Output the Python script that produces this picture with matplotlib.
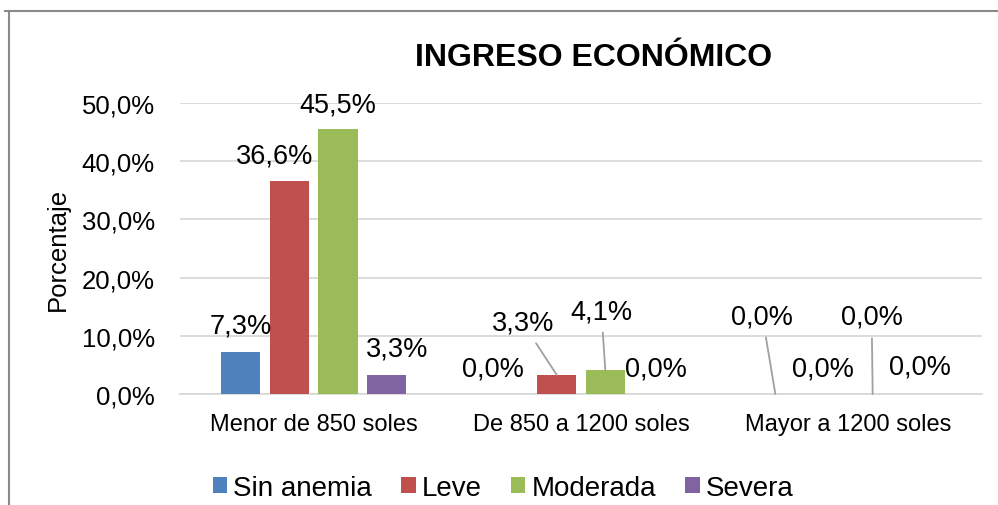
import matplotlib
matplotlib.use("Agg")
import matplotlib.pyplot as plt
from matplotlib.lines import Line2D
import numpy as np

plt.rcParams['font.family'] = ['Liberation Sans', 'DejaVu Sans']

title = "INGRESO ECONÓMICO"
categories = ["Menor de 850 soles", "De 850 a 1200 soles", "Mayor a 1200 soles"]
series_names = ["Sin anemia", "Leve", "Moderada", "Severa"]
sin_anemia = [7.3, 0.0, 0.0]
leve = [36.6, 3.3, 0.0]
moderada = [45.5, 4.1, 0.0]
severa = [3.3, 0.0, 0.0]
series_values = [sin_anemia, leve, moderada, severa]
colors = ["#4F81BD", "#C0504D", "#9BBB59", "#8064A2"]
y_ticks = [0, 10, 20, 30, 40, 50]
y_label = "Porcentaje"

# label offsets (pixels) per series, per category: (dx, dy, leader)
label_offsets = [
    [(0, 26, False), (-15, 25, False), (-13, 78, True)],
    [(-15, 25, False), (-34, 52, True), (-1, 25, False)],
    [(0, 25, False), (-4, 59, True), (-1, 77, True)],
    [(10, 26, False), (2, 26, False), (-1, 27, False)],
]

fig = plt.figure(figsize=(9.98, 5.06), dpi=100)
ax = fig.add_axes([180/998, 1-395/506, 802/998, 291/506])

x = np.arange(len(categories))
step = 0.182
width = 0.146
for i, (vals, col) in enumerate(zip(series_values, colors)):
    xs = x + (i - 1.5) * step
    ax.bar(xs, vals, width=width, color=col, label=series_names[i], zorder=3)
    for j, v in enumerate(vals):
        dx, dy, leader = label_offsets[i][j]
        txt = f"{v:.1f}%".replace(".", ",")
        kw = {}
        if leader:
            kw['arrowprops'] = dict(arrowstyle='-', color='#a0a0a0', lw=1.3,
                                    shrinkA=4, shrinkB=0)
        ax.annotate(txt, xy=(xs[j], v), xytext=(dx, dy), textcoords='offset pixels',
                    ha='center', va='center', fontsize=19.5, color='black', zorder=4, **kw)

ax.set_xlim(-0.5, 2.5)
ax.set_ylim(0, 50)
ax.set_yticks(y_ticks)
ax.set_yticklabels([f"{t:.1f}%".replace(".", ",") for t in y_ticks], fontsize=18.5)
ax.set_xticks(x)
ax.set_xticklabels(categories, fontsize=17)
ax.tick_params(axis='both', length=0)
ax.tick_params(axis='y', pad=18)
ax.tick_params(axis='x', pad=14)
ax.grid(axis='y', color='#d9d9d9', lw=1.3, zorder=0)
for s in ['top', 'right', 'left']:
    ax.spines[s].set_visible(False)
ax.spines['bottom'].set_color('#d9d9d9')
ax.spines['bottom'].set_linewidth(1.3)

ax.set_ylabel(y_label, fontsize=18.5)
ax.yaxis.set_label_coords(-0.137, 0.50)

fig.text(594/998, 1-58/506, title, fontsize=23, fontweight='bold', ha='center', va='center')

leg = fig.legend(loc='center', bbox_to_anchor=(503/998, 1-489/506), ncol=4, frameon=False,
                 fontsize=20, handlelength=0.52, handleheight=0.52, handletextpad=0.22,
                 columnspacing=1.05, borderpad=0, borderaxespad=0)

# outer chart frame
fig.add_artist(Line2D([5/998, 1.0], [1-12/506, 1-12/506], color='#8a8a8a', lw=1.5,
                      transform=fig.transFigure))
fig.add_artist(Line2D([9/998, 9/998], [1-12/506, 0.0], color='#8a8a8a', lw=1.5,
                      transform=fig.transFigure))

fig.savefig("out.png", dpi=100)
